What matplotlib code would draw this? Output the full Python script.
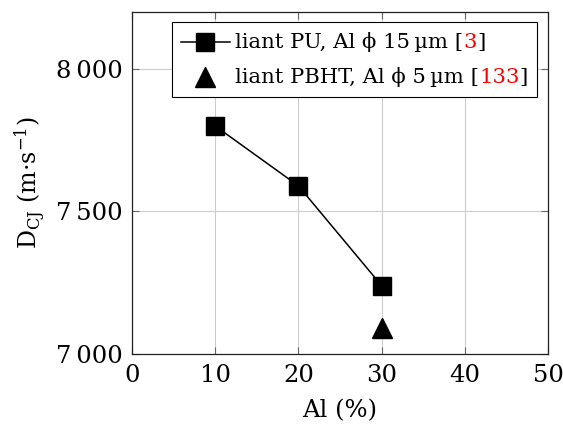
import matplotlib
matplotlib.use("Agg")
import matplotlib.pyplot as plt
import matplotlib.ticker as plticker
from matplotlib.offsetbox import AnchoredOffsetbox, HPacker, VPacker, TextArea, DrawingArea
from matplotlib.lines import Line2D

plt.rcParams['font.family'] = ['DejaVu Serif']
plt.rcParams['mathtext.fontset'] = 'dejavuserif'
plt.rcParams['font.size'] = 16

# data
al_pu = [10, 20, 30]
dcj_pu = [7800, 7590, 7240]
al_pbht = [30]
dcj_pbht = [7090]

label_pu = ("liant PU, Al \u03d5 15\u2009\u00b5m [", "3", "]")
label_pbht = ("liant PBHT, Al \u03d5 5\u2009\u00b5m [", "133", "]")

fig = plt.figure(figsize=(5.63, 4.26), dpi=100)
ax = fig.add_axes([132 / 563, 1 - 354 / 426, (548 - 132) / 563, (354 - 12) / 426])

ax.plot(al_pu, dcj_pu, color='black', lw=1.1, marker='s', ms=12.5, zorder=3)
ax.plot(al_pbht, dcj_pbht, color='black', lw=0, marker='^', ms=14, zorder=3)

ax.set_xlim(0, 50)
ax.set_ylim(7000, 8200)
ax.xaxis.set_major_locator(plticker.MultipleLocator(10))
ax.yaxis.set_major_locator(plticker.MultipleLocator(500))
ax.yaxis.set_major_formatter(plticker.FuncFormatter(
    lambda v, p: f"{int(v):,}".replace(",", "\u2009")))
ax.grid(True, color='#cccccc', lw=0.8)
ax.set_axisbelow(True)
ax.tick_params(direction='in', top=True, right=True, length=5, width=0.8,
               color='#666666', pad=7, labelsize=17.5)
for s in ax.spines.values():
    s.set_linewidth(0.9)
    s.set_color('#222222')

ax.set_xlabel("Al (%)", labelpad=9, fontsize=17.5)
ax.set_ylabel("D$_{\\rm CJ}$ (m\u00b7s$^{-1}$)", labelpad=6, fontsize=17)


def handle(marker, ms, with_line):
    da = DrawingArea(35, 16, 0, 0)
    if with_line:
        da.add_artist(Line2D([0, 35], [8, 8], color='black', lw=1.1))
    da.add_artist(Line2D([17.5], [8], marker=marker, ms=ms, color='black', lw=0))
    return da


def row(marker, ms, with_line, parts):
    fs = 15.2
    texts = HPacker(children=[TextArea(parts[0], textprops=dict(fontsize=fs)),
                              TextArea(parts[1], textprops=dict(color='red', fontsize=fs)),
                              TextArea(parts[2], textprops=dict(fontsize=fs))],
                    sep=0, align='baseline')
    return HPacker(children=[handle(marker, ms, with_line), texts], sep=4, align='center')


box = VPacker(children=[row('s', 12.5, True, label_pu),
                        row('^', 14, False, label_pbht)],
              sep=9, align='left')
leg = AnchoredOffsetbox(loc='upper right', child=box, pad=0.4, borderpad=0,
                        frameon=True, bbox_to_anchor=(537 / 563, 1 - 22 / 426),
                        bbox_transform=fig.transFigure)
leg.patch.set_boxstyle('square', pad=0)
leg.patch.set_edgecolor('black')
leg.patch.set_facecolor('white')
leg.patch.set_linewidth(0.8)
leg.zorder = 5
ax.add_artist(leg)

fig.savefig("out.png", dpi=100)
